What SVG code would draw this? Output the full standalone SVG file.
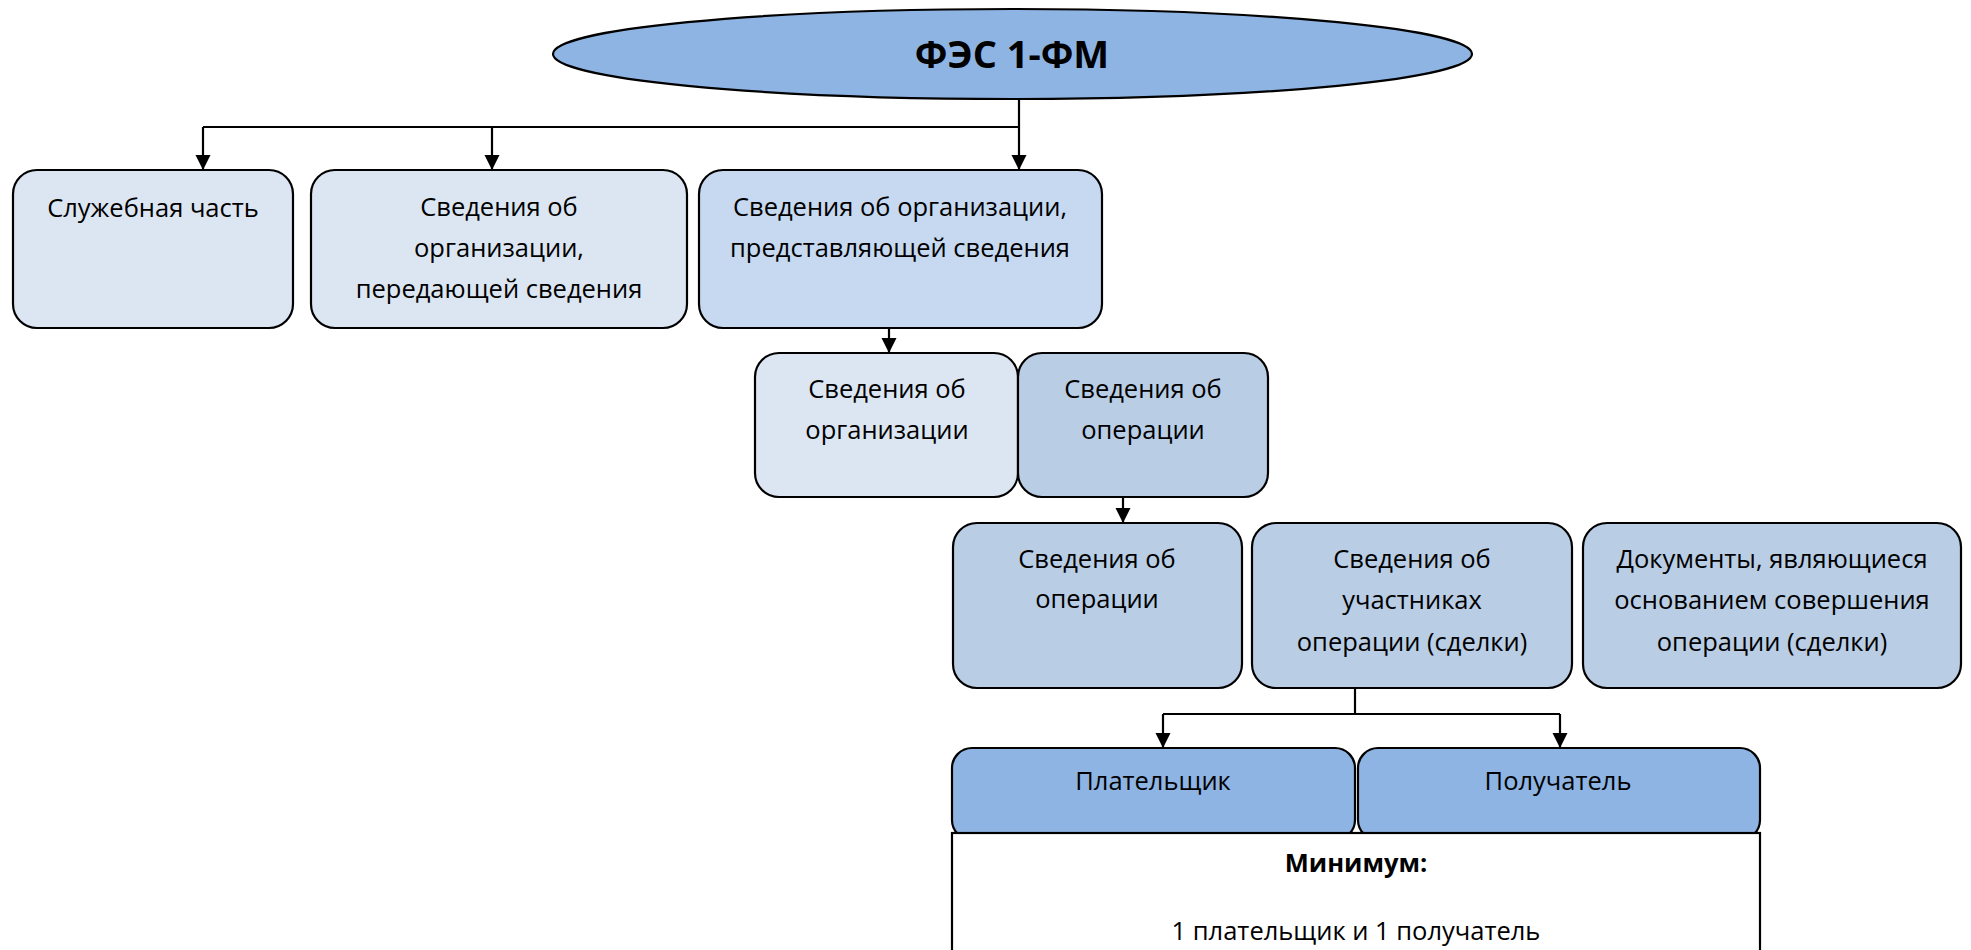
<svg xmlns="http://www.w3.org/2000/svg" width="1971" height="950" viewBox="0 0 1971 950">
<defs>
<marker id="ah" markerUnits="userSpaceOnUse" markerWidth="16" markerHeight="16" viewBox="0 0 16 16" refX="15" refY="8" orient="auto">
<path d="M0,0.5 L15,8 L0,15.5 Z" fill="#000"/>
</marker>
<style>
.box{stroke:#000;stroke-width:2.2}
.l1{fill:#DCE6F2}
.l2{fill:#C6D9F1}
.l3{fill:#B9CDE5}
.l4{fill:#8EB4E3}
.t{font-family:"Open Sans","Liberation Sans",sans-serif;font-size:25.5px;fill:#000;text-anchor:middle}
.b{font-weight:bold}
.c{fill:none;stroke:#000;stroke-width:2.2}
.a{marker-end:url(#ah)}
</style>
</defs>
<rect width="1971" height="950" fill="#fff"/>
<g id="root">
<ellipse class="box l4" cx="1012.5" cy="54" rx="459.5" ry="45"/>
<text class="t b" x="1012" y="68" style="font-size:38px">ФЭС 1-ФМ</text>
</g>
<g id="connectors">
<path class="c a" d="M1019,99 V170"/>
<path class="c" d="M203,127 H1019"/>
<path class="c a" d="M203,127 V170"/>
<path class="c a" d="M492,127 V170"/>
<path class="c a" d="M889,328 V353"/>
<path class="c a" d="M1123,497 V523"/>
<path class="c" d="M1355,688 V714"/>
<path class="c" d="M1163,714 H1560"/>
<path class="c a" d="M1163,714 V748"/>
<path class="c a" d="M1560,714 V748"/>
</g>
<g id="sluzhebnaya">
<rect class="box l1" x="13" y="170" width="280" height="158" rx="24"/>
<text class="t" x="153" y="217">Служебная часть</text>
</g>
<g id="peredayushchey">
<rect class="box l1" x="311" y="170" width="376" height="158" rx="24"/>
<text class="t" x="499" y="216">Сведения об</text>
<text class="t" x="499" y="257">организации,</text>
<text class="t" x="499" y="298">передающей сведения</text>
</g>
<g id="predstavlyayushchey">
<rect class="box l2" x="699" y="170" width="403" height="158" rx="24"/>
<text class="t" x="900" y="216">Сведения об организации,</text>
<text class="t" x="900" y="257">представляющей сведения</text>
</g>
<g id="org">
<rect class="box l1" x="755" y="353" width="263" height="144" rx="24"/>
<text class="t" x="887" y="398">Сведения об</text>
<text class="t" x="887" y="439">организации</text>
</g>
<g id="oper">
<rect class="box l3" x="1018" y="353" width="250" height="144" rx="24"/>
<text class="t" x="1143" y="398">Сведения об</text>
<text class="t" x="1143" y="439">операции</text>
</g>
<g id="oper2">
<rect class="box l3" x="953" y="523" width="289" height="165" rx="24"/>
<text class="t" x="1097" y="568">Сведения об</text>
<text class="t" x="1097" y="608">операции</text>
</g>
<g id="uchastniki">
<rect class="box l3" x="1252" y="523" width="320" height="165" rx="24"/>
<text class="t" x="1412" y="568">Сведения об</text>
<text class="t" x="1412" y="609">участниках</text>
<text class="t" x="1412" y="651">операции (сделки)</text>
</g>
<g id="dokumenty">
<rect class="box l3" x="1583" y="523" width="378" height="165" rx="24"/>
<text class="t" x="1772" y="568">Документы, являющиеся</text>
<text class="t" x="1772" y="609">основанием совершения</text>
<text class="t" x="1772" y="651">операции (сделки)</text>
</g>
<g id="platelshchik">
<rect class="box l4" x="952" y="748" width="403" height="92" rx="20"/>
<text class="t" x="1153" y="790">Плательщик</text>
</g>
<g id="poluchatel">
<rect class="box l4" x="1358" y="748" width="402" height="92" rx="20"/>
<text class="t" x="1558" y="790">Получатель</text>
</g>
<g id="minimum">
<rect class="box" fill="#fff" x="952" y="833" width="808" height="130"/>
<text class="t b" x="1356" y="872">Минимум:</text>
<text class="t" x="1356" y="940">1 плательщик и 1 получатель</text>
</g>
</svg>
